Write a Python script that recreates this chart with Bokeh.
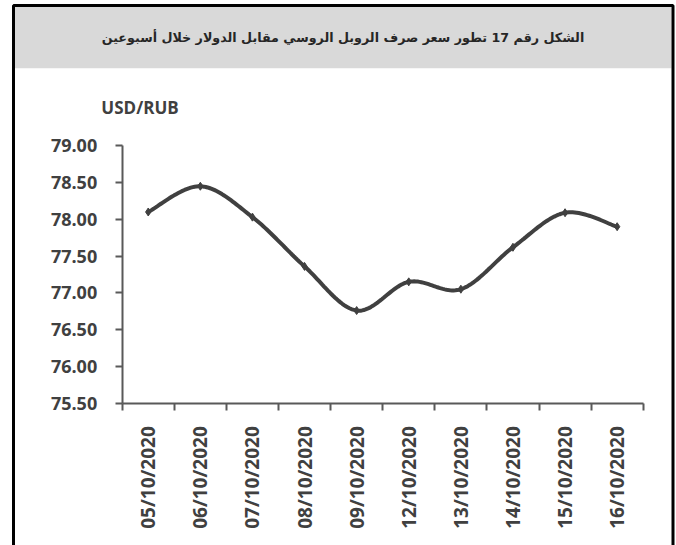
import numpy as np
from bokeh.plotting import figure
from bokeh.models import Range1d, FixedTicker, BoxAnnotation, Label, NumeralTickFormatter
from bokeh.embed import file_html
from bokeh.resources import INLINE

# ---- data ----
dates = ["05/10/2020", "06/10/2020", "07/10/2020", "08/10/2020", "09/10/2020",
         "12/10/2020", "13/10/2020", "14/10/2020", "15/10/2020", "16/10/2020"]
rates = [78.10, 78.45, 78.03, 77.36, 76.76, 77.15, 77.05, 77.62, 78.09, 77.90]
y_ticks = [75.5, 76.0, 76.5, 77.0, 77.5, 78.0, 78.5, 79.0]
title_text = "الشكل رقم 17 تطور سعر صرف الروبل الروسي مقابل الدولار خلال أسبوعين"
unit_text = "USD/RUB"

INK = "#404040"
AXIS = "#595959"
FONT = "Open Sans"

W, H = 676, 545
# pixel geometry of the plotting area
X0_PX, X1_PX = 121.7, 642.7      # category axis extent
Y_TOP_PX, Y_BOT_PX = 145.3, 402.7  # 79.00 and 75.50

n = len(dates)
ppx = (X1_PX - X0_PX) / n
ppy = (Y_BOT_PX - Y_TOP_PX) / (y_ticks[-1] - y_ticks[0])
x_start = -X0_PX / ppx
x_end = n + (W - X1_PX) / ppx
y_end = y_ticks[-1] + Y_TOP_PX / ppy
y_start = y_ticks[0] - (H - Y_BOT_PX) / ppy

xs = np.arange(n) + 0.5
ys = np.array(rates)

# smoothed line (spreadsheet-style Bezier smoothing)
def smooth(x, y, k=30):
    px = np.concatenate([[x[0]], x, [x[-1]]])
    py = np.concatenate([[y[0]], y, [y[-1]]])
    ox, oy = [], []
    for i in range(1, len(px) - 2):
        p0 = np.array([px[i - 1], py[i - 1]])
        p1 = np.array([px[i], py[i]])
        p2 = np.array([px[i + 1], py[i + 1]])
        p3 = np.array([px[i + 2], py[i + 2]])
        c1 = p1 + (p2 - p0) / 6.0
        c2 = p2 - (p3 - p1) / 6.0
        t = np.linspace(0, 1, k)[:, None]
        pts = ((1 - t) ** 3) * p1 + 3 * ((1 - t) ** 2) * t * c1 + 3 * (1 - t) * t ** 2 * c2 + t ** 3 * p2
        ox.extend(pts[:, 0]); oy.extend(pts[:, 1])
    return ox, oy

sx, sy = smooth(xs, ys)

p = figure(width=W, height=H, output_backend="svg", toolbar_location=None,
           x_range=Range1d(x_start, x_end), y_range=Range1d(y_start, y_end),
           min_border=0)
p.outline_line_color = None
p.grid.visible = False
p.background_fill_color = "white"
p.border_fill_color = "white"

# frame decorations (screen units: from frame left / frame bottom)
band = BoxAnnotation(left=14, right=671, top=H - 6, bottom=H - 67.7,
                     left_units="screen", right_units="screen", top_units="screen", bottom_units="screen",
                     fill_color="#d9d9d9", fill_alpha=1, line_color=None, level="underlay")
border = BoxAnnotation(left=13, right=672.5, top=H - 5, bottom=-50,
                       left_units="screen", right_units="screen", top_units="screen", bottom_units="screen",
                       fill_alpha=0, fill_color=None, line_color="black", line_alpha=1, line_width=3,
                       level="overlay")
p.add_layout(band)
p.add_layout(border)

p.line(sx, sy, line_color=INK, line_width=4)
p.scatter(xs, ys, marker="diamond", size=8, color=INK)

# axes
xa = p.xaxis[0]
xa.fixed_location = y_ticks[0]
xa.bounds = (0, n)
xa.ticker = FixedTicker(ticks=list(xs), minor_ticks=list(range(n + 1)))
xa.major_label_overrides = {float(x): d for x, d in zip(xs, dates)}
xa.major_tick_out = 0
xa.major_tick_in = 0
xa.minor_tick_out = 7
xa.minor_tick_in = 0
xa.minor_tick_line_color = AXIS
xa.minor_tick_line_width = 2
xa.major_label_orientation = np.pi / 2
xa.major_label_standoff = 16
xa.major_label_text_font_size = "19px"

ya = p.yaxis[0]
ya.fixed_location = 0
ya.bounds = (y_ticks[0], y_ticks[-1])
ya.ticker = FixedTicker(ticks=y_ticks)
ya.formatter = NumeralTickFormatter(format="0.00")
ya.major_tick_out = 7
ya.major_tick_in = 0
ya.minor_tick_line_color = None
ya.major_label_standoff = 18
ya.major_label_text_font_size = "18px"

for ax in (xa, ya):
    ax.axis_line_color = AXIS
    ax.axis_line_width = 2
    ax.major_tick_line_color = AXIS
    ax.major_tick_line_width = 2
    ax.major_label_text_font = FONT
    ax.major_label_text_font_style = "bold"
    ax.major_label_text_color = INK

p.add_layout(Label(x=342.5, y=H - 37, x_units="screen", y_units="screen", text=title_text,
                   text_align="center", text_baseline="middle", text_font="DejaVu Sans",
                   text_font_style="bold", text_font_size="12.7px", text_color="#262626"))
p.add_layout(Label(x=139.5, y=H - 107, x_units="screen", y_units="screen", text=unit_text,
                   text_align="center", text_baseline="middle", text_font=FONT,
                   text_font_style="bold", text_font_size="17px", text_color=INK))

open("out.html", "w").write(file_html(p, INLINE))
